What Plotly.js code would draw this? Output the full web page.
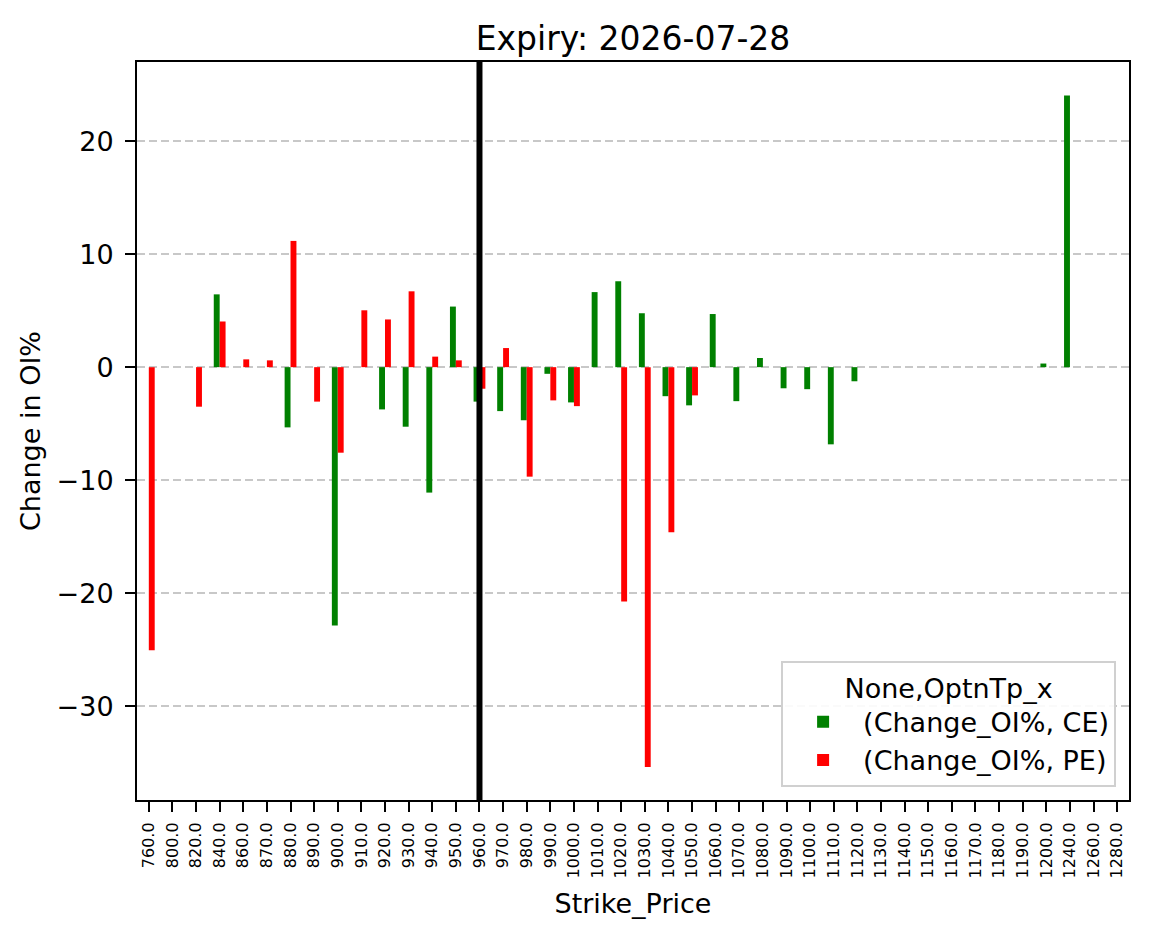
<!DOCTYPE html>
<html><head><meta charset="utf-8">
<script src="https://cdn.plot.ly/plotly-3.0.1.min.js"></script>
<style>body{margin:0;background:#fff}</style>
</head><body><div id="chart" style="width:1149px;height:939px"></div>
<script>
const strikeLabels = ["760.0","800.0","820.0","840.0","860.0","870.0","880.0","890.0","900.0","910.0",
  "920.0","930.0","940.0","950.0","960.0","970.0","980.0","990.0","1000.0","1010.0",
  "1020.0","1030.0","1040.0","1050.0","1060.0","1070.0","1080.0","1090.0","1100.0","1110.0",
  "1120.0","1130.0","1140.0","1150.0","1160.0","1170.0","1180.0","1190.0","1200.0","1240.0",
  "1260.0","1280.0"];
const ceChange = [null,null,null,6.44,null,null,-5.33,null,-22.87,null,
  -3.74,-5.27,-11.1,5.36,-3.05,-3.89,-4.70,-0.59,-3.12,6.64,
  7.6,4.77,-2.57,-3.38,4.70,-3.01,0.81,-1.87,-1.95,-6.83,
  -1.25,null,null,null,null,null,null,null,0.32,24.04,
  null,null];
const peChange = [-25.06,null,-3.5,4.04,0.69,0.6,11.17,-3.05,-7.57,5.03,
  4.22,6.71,0.93,0.6,-1.91,1.69,-9.69,-2.94,-3.45,null,
  -20.74,-35.39,-14.61,-2.5,null,null,null,null,null,null,
  null,null,null,null,null,null,null,null,null,null,
  null,null];
const spotStrike = "960.0";
const seriesNames = ["(Change_OI%, CE)", "(Change_OI%, PE)"];
const seriesColors = ["green", "red"];
const yTicks = [-30,-20,-10,0,10,20];

const font = "DejaVu Sans, sans-serif";
const spotIndex = strikeLabels.indexOf(spotStrike);
const traces = [
  {type:"bar", name:seriesNames[0], x:strikeLabels, y:ceChange, marker:{color:seriesColors[0]}},
  {type:"bar", name:seriesNames[1], x:strikeLabels, y:peChange, marker:{color:seriesColors[1]}}
];
const layout = {
  width:1149, height:939,
  margin:{l:137, r:20, t:62, b:139},
  paper_bgcolor:"#fff", plot_bgcolor:"#fff",
  font:{family:font, color:"#000"},
  barmode:"group", bargap:0.5, bargroupgap:0,
  title:{text:"Expiry: 2026-07-28", font:{size:33, family:font, color:"#000"},
    x:0.5, xref:"paper", xanchor:"center", y:1, yref:"paper", yanchor:"bottom", pad:{b:12}},
  xaxis:{type:"category", range:[-0.5, strikeLabels.length-0.5], tickangle:-90,
    tickfont:{size:16, family:font}, ticks:"outside", ticklen:10, tickwidth:2, tickcolor:"#000",
    showline:true, linecolor:"#000", linewidth:2, mirror:true, showgrid:false,
    ticklabelstandoff:4,
    title:{text:"Strike_Price", font:{size:27, family:font}, standoff:17}},
  yaxis:{range:[-38.3, 27.0], tickvals:yTicks, ticks:"outside", ticklen:10, tickwidth:2, tickcolor:"#000",
    tickfont:{size:27, family:font}, showline:true, linecolor:"#000", linewidth:2, mirror:true,
    showgrid:true, gridcolor:"#c8c8c8", gridwidth:1.5, griddash:"8px,4px", zeroline:false,
    ticklabelstandoff:6,
    title:{text:"Change in OI%", font:{size:27, family:font}, standoff:8}},
  legend:{x:0.987, xanchor:"right", y:0.018, yanchor:"bottom", bgcolor:"rgba(255,255,255,0.9)",
    bordercolor:"#d0d0d0", borderwidth:2, font:{size:27, family:font}, itemwidth:70,
    title:{text:"None,OptnTp_x", side:"top center", font:{size:27, family:font}}},
  shapes:[{type:"line", xref:"x", yref:"paper", x0:spotIndex, x1:spotIndex, y0:0, y1:1,
    line:{color:"#000", width:6}}],
  showlegend:true
};
Plotly.newPlot("chart", traces, layout, {displayModeBar:false, staticPlot:true});
</script></body></html>
